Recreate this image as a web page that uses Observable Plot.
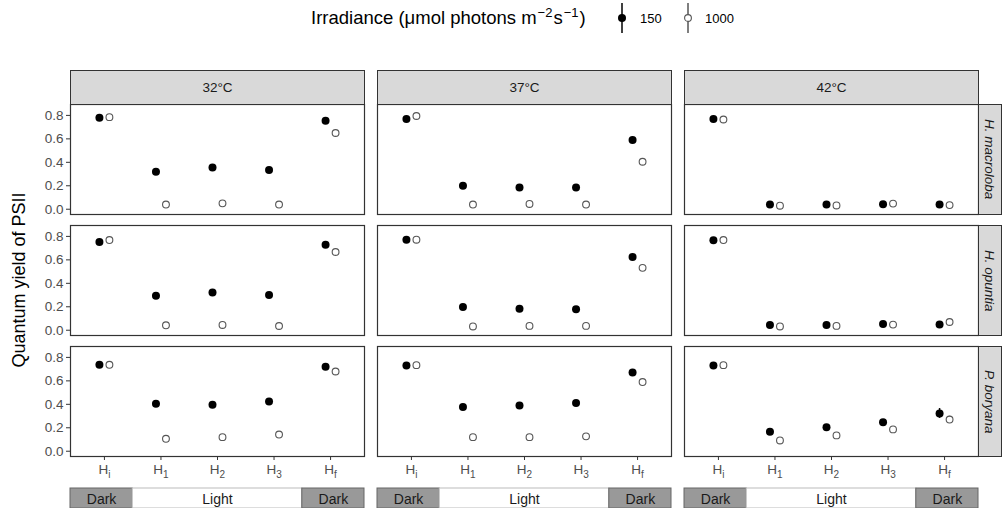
<!DOCTYPE html>
<html>
<head>
<meta charset="utf-8">
<script src="https://cdn.jsdelivr.net/npm/d3@7"></script>
<script src="https://cdn.jsdelivr.net/npm/@observablehq/plot@0.6"></script>
<style>
  body { margin: 0; background: #fff; font-family: "Liberation Sans", Arial, sans-serif; }
  #wrap { position: relative; width: 1006px; height: 508px; overflow: hidden; }
  #wrap > svg { position: absolute; left: 0; }
  .strip { position: absolute; background: #d9d9d9; border: 1.2px solid #333; box-sizing: border-box;
           display: flex; align-items: center; justify-content: center; color: #1a1a1a; font-size: 13.5px; }
  .stripR span { writing-mode: vertical-rl; font-style: italic; }
  #ytitle { position: absolute; left: 19px; top: 280px; transform: translate(-50%, -50%) rotate(-90deg);
            white-space: nowrap; font-size: 18px; color: #000; }
  .lg { position: absolute; top: 18px; transform: translateY(-50%); white-space: nowrap; color: #000; line-height: 1; }
  .lgt { font-size: 18.5px; }
  .lgt sup { font-size: 13px; vertical-align: 0.55em; line-height: 0; margin: 0 1px; }
  .lgl { font-size: 13px; }
</style>
</head>
<body>
<div id="wrap"></div>
<script>
// ---------------- data ----------------
const temperatures = ["32°C", "37°C", "42°C"];
const species = ["H. macroloba", "H. opuntia", "P. boryana"];
const stages = ["Hi", "H1", "H2", "H3", "Hf"];
const irradiances = ["150", "1000"];

// rows: temperature (32, 37, 42); columns: stages Hi, H1, H2, H3, Hf
const macroloba150  = [[0.78, 0.32, 0.355, 0.335, 0.755], [0.77, 0.20, 0.185, 0.185, 0.59], [0.77, 0.04, 0.04, 0.042, 0.04]];
const macroloba1000 = [[0.785, 0.04, 0.05, 0.04, 0.65], [0.795, 0.04, 0.045, 0.04, 0.405], [0.765, 0.03, 0.032, 0.048, 0.035]];
const opuntia150    = [[0.752, 0.295, 0.322, 0.30, 0.729], [0.772, 0.198, 0.184, 0.178, 0.625], [0.768, 0.045, 0.045, 0.054, 0.048]];
const opuntia1000   = [[0.769, 0.042, 0.045, 0.036, 0.667], [0.772, 0.032, 0.037, 0.037, 0.532], [0.769, 0.032, 0.037, 0.048, 0.07]];
const boryana150    = [[0.737, 0.405, 0.397, 0.424, 0.72], [0.731, 0.378, 0.39, 0.411, 0.671], [0.731, 0.165, 0.204, 0.248, 0.322]];
const boryana1000   = [[0.737, 0.106, 0.12, 0.142, 0.68], [0.734, 0.12, 0.12, 0.127, 0.59], [0.734, 0.092, 0.135, 0.186, 0.27]];

// standard errors (mostly hidden behind the points)
const macroloba150Err  = [[0.01, 0.02, 0.015, 0.02, 0.015], [0.01, 0.015, 0.01, 0.015, 0.02], [0.01, 0.005, 0.005, 0.005, 0.005]];
const macroloba1000Err = [[0.01, 0.005, 0.005, 0.005, 0.02], [0.01, 0.005, 0.005, 0.005, 0.02], [0.01, 0.005, 0.005, 0.005, 0.005]];
const opuntia150Err    = [[0.015, 0.02, 0.015, 0.02, 0.015], [0.01, 0.015, 0.01, 0.01, 0.02], [0.01, 0.005, 0.005, 0.005, 0.005]];
const opuntia1000Err   = [[0.01, 0.005, 0.005, 0.005, 0.02], [0.01, 0.005, 0.005, 0.005, 0.02], [0.01, 0.005, 0.005, 0.005, 0.01]];
const boryana150Err    = [[0.01, 0.02, 0.02, 0.02, 0.015], [0.01, 0.02, 0.015, 0.02, 0.02], [0.01, 0.015, 0.02, 0.02, 0.042]];
const boryana1000Err   = [[0.01, 0.01, 0.01, 0.01, 0.015], [0.01, 0.01, 0.01, 0.01, 0.02], [0.01, 0.01, 0.01, 0.015, 0.028]];

const phaseLabels = ["Dark", "Light", "Dark"];
const phaseFrom = ["Hi", "H1", "Hf"];
const phaseTo = ["Hi", "H3", "Hf"];

// ---------------- build table ----------------
const values = {
  "H. macroloba": {"150": macroloba150, "1000": macroloba1000},
  "H. opuntia": {"150": opuntia150, "1000": opuntia1000},
  "P. boryana": {"150": boryana150, "1000": boryana1000}
};
const errors = {
  "H. macroloba": {"150": macroloba150Err, "1000": macroloba1000Err},
  "H. opuntia": {"150": opuntia150Err, "1000": opuntia1000Err},
  "P. boryana": {"150": boryana150Err, "1000": boryana1000Err}
};
const rows = [];
species.forEach(sp => temperatures.forEach((t, ti) => irradiances.forEach(irr => stages.forEach((st, k) => {
  rows.push({species: sp, temp: t, irr, stage: st, pos: k + 1,
             value: values[sp][irr][ti][k], err: errors[sp][irr][ti][k]});
}))));
const low = rows.filter(d => d.irr === "150");
const high = rows.filter(d => d.irr === "1000");

const FONT = '"Liberation Sans", Arial, sans-serif';
const xDomain = [0.4, stages.length + 0.6];
const ML = 69, MR = 26, W = 1006;
const fxOpts = {domain: temperatures, paddingInner: 0.0422, paddingOuter: 0, axis: null, label: null};

const main = Plot.plot({
  width: W, height: 508,
  marginTop: 102.7, marginBottom: 51.4, marginLeft: ML, marginRight: MR,
  style: {fontFamily: FONT, fontSize: "13.5px", background: "transparent", overflow: "visible"},
  fx: fxOpts,
  fy: {domain: species, paddingInner: 0.0905, paddingOuter: 0, axis: null, label: null},
  x: {domain: xDomain},
  y: {domain: [-0.045, 0.893]},
  marks: [
    Plot.frame({stroke: "#333", strokeWidth: 1.2}),
    Plot.axisY({ticks: [0, 0.2, 0.4, 0.6, 0.8], tickFormat: d3.format(".1f"), tickSize: 4, tickPadding: 3,
                label: null, fill: "#4d4d4d", stroke: "#333", facetAnchor: "left"}),
    Plot.axisX({ticks: stages.map((s, i) => i + 1), tickFormat: i => stages[i - 1], tickSize: 4, tickPadding: 4,
                label: null, fill: "#4d4d4d", stroke: "#333", facetAnchor: "bottom"}),
    Plot.ruleX(low, {fx: "temp", fy: "species", x: "pos", y1: d => d.value - d.err, y2: d => d.value + d.err,
                     dx: -5, stroke: "#000", strokeWidth: 1.5}),
    Plot.dot(low, {fx: "temp", fy: "species", x: "pos", y: "value", dx: -5, r: 4, fill: "#000"}),
    Plot.ruleX(high, {fx: "temp", fy: "species", x: "pos", y1: d => d.value - d.err, y2: d => d.value + d.err,
                      dx: 5, stroke: "#555", strokeWidth: 1.5}),
    Plot.dot(high, {fx: "temp", fy: "species", x: "pos", y: "value", dx: 5, r: 3.4, fill: "#fff",
                    stroke: "#555", strokeWidth: 1.1})
  ]
});
main.style.top = "0px";
const wrap = document.getElementById("wrap");
wrap.appendChild(main);

// subscripts on stage tick labels
d3.select(main).selectAll('g[aria-label="x-axis tick label"] text').each(function () {
  const s = this.textContent;
  const t = d3.select(this);
  t.text(null);
  t.append("tspan").text(s[0]);
  t.append("tspan").attr("dy", "0.35em").attr("font-size", "10px").text(s.slice(1));
});

// phase bars (Dark / Light)
const phases = [];
temperatures.forEach(t => phaseLabels.forEach((lab, i) => {
  const a = stages.indexOf(phaseFrom[i]) + 1, b = stages.indexOf(phaseTo[i]) + 1;
  phases.push({temp: t, label: lab,
               x1: i === 0 ? xDomain[0] : a - 0.5,
               x2: i === phaseLabels.length - 1 ? xDomain[1] : b + 0.5});
}));
const bars = Plot.plot({
  width: W, height: 22,
  marginTop: 1, marginBottom: 1, marginLeft: ML, marginRight: MR,
  style: {fontFamily: FONT, fontSize: "14px", background: "transparent", overflow: "visible"},
  fx: fxOpts,
  x: {domain: xDomain, axis: null},
  marks: [
    Plot.rect(phases, {fx: "temp", x1: "x1", x2: "x2",
                       fill: d => d.label === "Dark" ? "#999" : "#fff",
                       stroke: d => d.label === "Dark" ? "#666" : "#bbb", strokeWidth: 1}),
    Plot.text(phases, {fx: "temp", x: d => (d.x1 + d.x2) / 2, text: "label", frameAnchor: "middle",
                       fill: "#1a1a1a", dy: 1})
  ]
});
bars.style.top = "487px";
wrap.appendChild(bars);

// facet strips, placed on the frames drawn by Plot
const wr = wrap.getBoundingClientRect();
const frames = Array.from(main.querySelectorAll('g[aria-label="frame"] rect')).map(r => {
  const b = r.getBoundingClientRect();
  return {x: b.left - wr.left, y: b.top - wr.top, w: b.width, h: b.height};
});
const minY = d3.min(frames, f => f.y), maxX = d3.max(frames, f => f.x);
const topFrames = frames.filter(f => Math.abs(f.y - minY) < 1).sort((a, b) => a.x - b.x);
const rightFrames = frames.filter(f => Math.abs(f.x - maxX) < 1).sort((a, b) => a.y - b.y);
topFrames.forEach((f, i) => {
  const s = document.createElement("div");
  s.className = "strip";
  Object.assign(s.style, {left: (f.x - 0.6) + "px", width: (f.w + 1.2) + "px", top: "70px", height: (f.y - 70 + 0.6) + "px"});
  s.textContent = temperatures[i];
  wrap.appendChild(s);
});
rightFrames.forEach((f, i) => {
  const s = document.createElement("div");
  s.className = "strip stripR";
  Object.assign(s.style, {left: (f.x + f.w - 0.6) + "px", width: "24px", top: (f.y - 0.6) + "px", height: (f.h + 1.2) + "px"});
  const sp = document.createElement("span");
  sp.textContent = species[i];
  s.appendChild(sp);
  wrap.appendChild(s);
});

// y title
const yt = document.createElement("div");
yt.id = "ytitle";
yt.textContent = "Quantum yield of PSII";
wrap.appendChild(yt);

// legend
function addLegend(html, cls, left) {
  const e = document.createElement("div");
  e.className = "lg " + cls;
  e.style.left = left + "px";
  e.innerHTML = html;
  wrap.appendChild(e);
}
addLegend('Irradiance (μmol photons m<sup>−2</sup>s<sup>−1</sup>)', "lgt", 311);
addLegend('<svg width="14" height="34" style="display:block"><line x1="7" x2="7" y1="2" y2="32" stroke="#000" stroke-width="1.5"/><circle cx="7" cy="17" r="4" fill="#000"/></svg>', "", 615);
addLegend('150', "lgl", 640);
addLegend('<svg width="14" height="34" style="display:block"><line x1="7" x2="7" y1="2" y2="32" stroke="#555" stroke-width="1.5"/><circle cx="7" cy="17" r="3.4" fill="#fff" stroke="#555" stroke-width="1.1"/></svg>', "", 681);
addLegend('1000', "lgl", 705);
</script>
</body>
</html>
